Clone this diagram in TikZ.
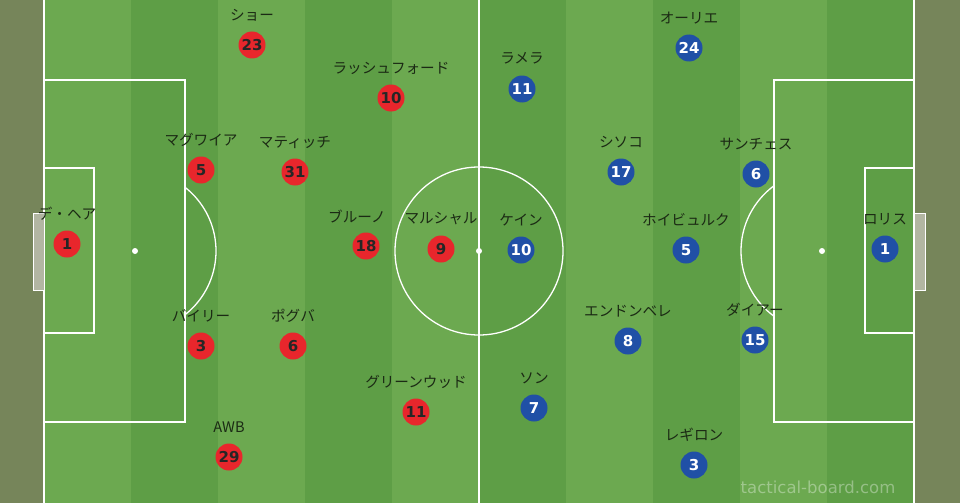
\documentclass[tikz,border=0pt]{standalone}
\usepackage{fontspec}
\setmainfont{DejaVu Sans}
\newfontfamily\jpfont{Noto Sans CJK JP}
\newfontfamily\numfont{DejaVu Sans}
\definecolor{outer}{HTML}{76855A}
\definecolor{lightg}{HTML}{6CA950}
\definecolor{darkg}{HTML}{5E9E46}
\definecolor{redp}{HTML}{E8262C}
\definecolor{bluep}{HTML}{2050A6}
\definecolor{labc}{HTML}{1B2A14}
\definecolor{goalc}{HTML}{B2B6A2}
\tikzset{
  fline/.style={draw=white, line width=1.3pt},
  redpl/.style={circle, fill=redp, minimum size=27pt, inner sep=0pt, text=black!85, font=\numfont\bfseries\fontsize{15}{15}\selectfont},
  bluepl/.style={circle, fill=bluep, minimum size=27pt, inner sep=0pt, text=white, font=\numfont\bfseries\fontsize{15}{15}\selectfont},
  lab/.style={text=labc, inner sep=0pt, font=\jpfont\fontsize{14.6}{14.6}\selectfont},
}
\begin{document}
\begin{tikzpicture}[x=1pt,y=-1pt]
\useasboundingbox (0,0) rectangle (960,503);
\fill[outer] (0,0) rectangle (960,503);
% stripes
\foreach \i in {0,...,9} {
  \pgfmathsetmacro{\xa}{44+87*\i}
  \pgfmathsetmacro{\xb}{44+87*(\i+1)}
  \pgfmathparse{mod(\i,2)==0 ? 1 : 0}
  \ifnum\pgfmathresult=1
    \fill[lightg] (\xa,0) rectangle (\xb,503);
  \else
    \fill[darkg] (\xa,0) rectangle (\xb,503);
  \fi
}
% lines
\draw[fline] (44,-2) -- (44,505);
\draw[fline] (914,-2) -- (914,505);
\draw[fline] (479,-2) -- (479,505);
\draw[fline] (479,251) circle (84);
\fill[white] (479,251) circle (3);
% left
\draw[fline] (44,80) rectangle (185,422);
\draw[fline] (44,168) rectangle (94,333);
\fill[white] (135,251) circle (3);
\begin{scope}
\clip (185,0) rectangle (400,503);
\draw[fline] (135,251) circle (81);
\end{scope}
\filldraw[fill=goalc, draw=white, line width=0.8pt] (33,213) rectangle (44,290);
% right
\draw[fline] (774,80) rectangle (914,422);
\draw[fline] (865,168) rectangle (914,333);
\fill[white] (822,251) circle (3);
\begin{scope}
\clip (600,0) rectangle (774,503);
\draw[fline] (822,251) circle (81);
\end{scope}
\filldraw[fill=goalc, draw=white, line width=0.8pt] (914,213) rectangle (925,290);

% red team
\node[redpl] (r1) at (67,244) {1};   \node[lab] (lr1) at (67,214) {デ・ヘア};
\node[redpl] (r23) at (252,45) {23}; \node[lab] (lr23) at (252,15) {ショー};
\node[redpl] (r5) at (201,170) {5};  \node[lab] (lr5) at (201,140) {マグワイア};
\node[redpl] (r31) at (295,172) {31};\node[lab] (lr31) at (295,142) {マティッチ};
\node[redpl] (r10) at (391,98) {10}; \node[lab] (lr10) at (391,68) {ラッシュフォード};
\node[redpl] (r18) at (366,246) {18};\node[lab] (lr18) at (357,216) {ブルーノ};
\node[redpl] (r9) at (441,249) {9};  \node[lab] (lr9) at (441,219) {マルシャル};
\node[redpl] (r3) at (201,346) {3};  \node[lab] (lr3) at (201,316) {バイリー};
\node[redpl] (r6) at (293,346) {6};  \node[lab] (lr6) at (293,316) {ポグバ};
\node[redpl] (r11) at (416,412) {11};\node[lab] (lr11) at (416,382) {グリーンウッド};
\node[redpl] (r29) at (229,457) {29};\node[lab] (lr29) at (229,427) {AWB};

% blue team
\node[bluepl] (b11) at (522,89) {11}; \node[lab] (lb11) at (522,58) {ラメラ};
\node[bluepl] (b24) at (689,48) {24}; \node[lab] (lb24) at (689,18) {オーリエ};
\node[bluepl] (b17) at (621,172) {17};\node[lab] (lb17) at (621,142) {シソコ};
\node[bluepl] (b6) at (756,174) {6};  \node[lab] (lb6) at (756,144) {サンチェス};
\node[bluepl] (b10) at (521,250) {10};\node[lab] (lb10) at (521,220) {ケイン};
\node[bluepl] (b5) at (686,250) {5};  \node[lab] (lb5) at (686,220) {ホイビュルク};
\node[bluepl] (b1) at (885,249) {1};  \node[lab] (lb1) at (885,219) {ロリス};
\node[bluepl] (b8) at (628,341) {8};  \node[lab] (lb8) at (628,311) {エンドンベレ};
\node[bluepl] (b15) at (755,340) {15};\node[lab] (lb15) at (755,310) {ダイアー};
\node[bluepl] (b7) at (534,408) {7};  \node[lab] (lb7) at (534,378) {ソン};
\node[bluepl] (b3) at (694,465) {3};  \node[lab] (lb3) at (694,435) {レギロン};

% watermark
\node[text=white, opacity=0.35, font=\fontsize{16.5}{16.5}\selectfont, inner sep=0pt] (wm) at (818,487) {tactical-board.com};
\end{tikzpicture}
\end{document}
